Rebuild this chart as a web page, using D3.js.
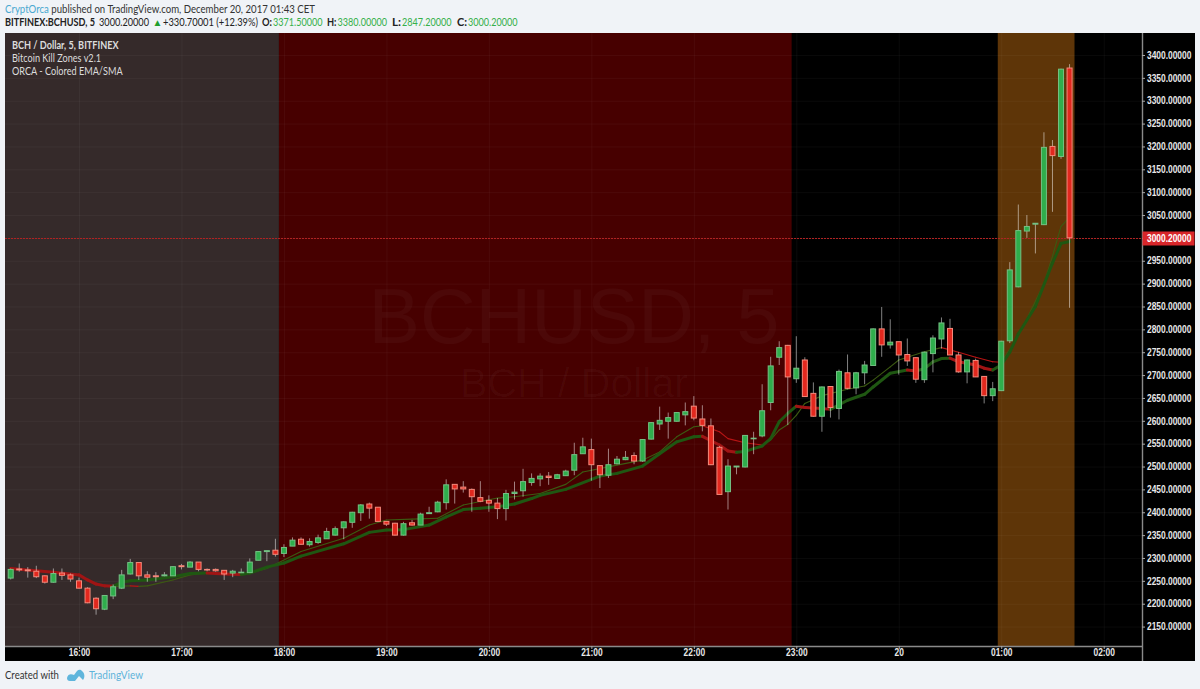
<!DOCTYPE html>
<html><head><meta charset="utf-8">
<script src="https://cdn.jsdelivr.net/npm/d3@7/dist/d3.min.js"></script>
<style>html,body{margin:0;padding:0;background:#f0f3f7;overflow:hidden}svg{display:block}</style>
</head><body><svg id="c" width="1200" height="689"></svg>
<script>
// five-minute bars, the first opens 19 Dec 2017 15:20 (CET)
const firstBar = Date.UTC(2017,11,19,15,20);
const opens = [2256,2276,2274,2271,2261,2247,2267,2263,2250,2234,2212,2188,2217,2234,2265,2290,2263,2261,2261,2261,2283,2280,2291,2275,2275,2273,2267,2268,2268,2295,2314,2317,2310,2326,2341,2329,2334,2342,2350,2366,2378,2399,2418,2411,2380,2376,2350,2377,2372,2397,2401,2421,2461,2455,2450,2432,2426,2420,2408,2441,2447,2465,2473,2479,2474,2480,2492,2528,2537,2502,2481,2506,2515,2524,2512,2560,2593,2599,2599,2613,2632,2604,2589,2542,2445,2499,2499,2561,2567,2640,2739,2765,2692,2733,2660,2610,2675,2627,2705,2672,2705,2721,2801,2766,2773,2745,2738,2690,2747,2779,2802,2744,2707,2732,2697,2655,2666,2775,2893,3015,3030,3029,3200,3178,3371.5];
const closes = [2275,2274,2272,2259,2247,2266,2262,2254,2234,2202,2189,2218,2237,2263,2290,2261,2258,2259,2263,2281,2281,2291,2275,2274,2272,2265,2271,2269,2291,2314,2316,2308,2323,2339,2330,2336,2344,2358,2364,2379,2400,2416,2409,2380,2374,2350,2375,2372,2396,2399,2422,2460,2451,2451,2434,2424,2420,2408,2441,2444,2467,2474,2479,2476,2482,2490,2526,2543,2504,2482,2504,2516,2520,2512,2559,2596,2601,2607,2618,2620,2606,2590,2504,2439,2501,2501,2568,2562,2622,2720,2760,2696,2715,2653,2610,2674,2629,2708,2671,2705,2722,2801,2766,2772,2744,2731,2691,2750,2781,2814,2744,2707,2733,2696,2655,2670,2774,2930,3016,3025,3032,3198,3180,3369,3000.2];
const highs = [2277,2288,2280,2283,2262,2277,2277,2266,2257,2236,2214,2219,2242,2274,2298,2290,2271,2269,2269,2282,2287,2293,2291,2277,2277,2273,2274,2277,2299,2315,2316,2342,2330,2345,2345,2343,2351,2366,2369,2380,2401,2418,2421,2411,2380,2377,2379,2383,2399,2412,2425,2472,2461,2468,2452,2468,2437,2431,2449,2467,2495,2485,2485,2488,2484,2493,2552,2563,2561,2502,2539,2523,2534,2531,2560,2597,2631,2618,2619,2640,2654,2634,2605,2545,2516,2501,2569,2576,2680,2740,2774,2766,2785,2739,2684,2675,2676,2712,2745,2707,2731,2802,2849,2822,2773,2780,2739,2751,2787,2826,2823,2750,2734,2736,2698,2685,2775,2947,3073,3050,3032,3231,3214,3370,3380];
const lows = [2253,2270,2257,2256,2244,2246,2252,2248,2233,2201,2176,2186,2210,2232,2264,2252,2248,2248,2260,2261,2275,2280,2271,2271,2270,2252,2258,2267,2267,2295,2293,2303,2302,2326,2329,2325,2331,2342,2349,2341,2366,2381,2386,2380,2370,2349,2349,2371,2372,2397,2400,2406,2419,2443,2401,2422,2401,2385,2382,2428,2434,2458,2457,2460,2473,2480,2481,2528,2469,2453,2475,2505,2514,2505,2510,2559,2580,2561,2598,2590,2601,2577,2503,2439,2406,2483,2498,2527,2564,2623,2722,2591,2683,2652,2609,2576,2607,2603,2669,2658,2680,2720,2740,2758,2701,2720,2683,2683,2706,2758,2744,2705,2682,2696,2638,2643,2665,2770,2892,3000,2966,3028,3057,3173,2847.2];

// moving-average vertices: bar number and price
const emaBars = [0,3,5,8,9,10,11,12,13,14,16,17,19,21,23,24,25,27,28,30,32,34,39,42,44,46,49,51,53,55,57,59,61,62,65,69,71,74,76,78,80,81,83,84,85,86,88,89,90,91,92,93,95,96,98,100,101,103,105,106,107,108,109,110,111,113,114,115,116,117,118,120,122,123,124];
const emaVals = [2277,2272,2269,2263,2252,2243,2239,2238,2247,2250,2252,2254,2259,2266,2267,2266,2265,2264,2267,2280,2289,2304,2331,2356,2361,2362,2372,2390,2406,2409,2412,2418,2430,2437,2450,2479,2485,2501,2528,2554,2565,2566,2547,2534,2531,2533,2545,2561,2598,2616,2632,2629,2627,2625,2645,2658,2674,2704,2711,2709,2714,2729,2736,2737,2729,2722,2715,2711,2722,2750,2790,2850,2945,2988,2992];
const smaBars = [0,3,5,8,9,10,11,12,14,15,16,19,21,23,25,27,28,30,34,39,42,44,47,50,53,57,59,62,65,67,71,74,76,78,80,81,83,84,86,88,89,90,91,92,93,95,98,100,101,103,104,107,109,111,113,115,116,118,121,122,123,124];
const smaVals = [2277,2272,2269,2263,2252,2243,2239,2238,2239,2238,2239,2252,2263,2267,2266,2265,2267,2277,2314,2343,2372,2383,2385,2387,2416,2431,2434,2441,2461,2488,2503,2514,2532,2565,2587,2589,2576,2561,2552,2547,2558,2580,2592,2612,2638,2655,2669,2676,2689,2718,2733,2751,2760,2750,2739,2729,2728,2785,2900,2960,3025,3045];

const priceTicks = d3.range(2150,3401,50);
const timeTickHours = [16,17,18,19,20,21,22,23,24,25,26];
const timeTickLabels = ["16:00","17:00","18:00","19:00","20:00","21:00","22:00","23:00","20","01:00","02:00"];
// session zones, in hours after midnight on 19 Dec
const zoneEnds = [17.951,22.956,24.966,25.717,27];
const zoneFills = ["#352a2a","#470000","#000000","#5e3508","#000000"];
const lastPrice = closes[closes.length-1];

const H = 3600e3, day0 = Date.UTC(2017,11,19);
const hourTime = h => new Date(day0+h*H);
const barTime = i => new Date(firstBar+i*300e3);
const L=5,R=1142,T=33,B=646;
const x = d3.scaleUtc().domain([Date.UTC(2017,11,19,15,16,40),Date.UTC(2017,11,20,2,22,25)]).range([L,R]);
const y = d3.scaleLinear().domain([2107.5,3448.1]).range([B,T]);
const svg = d3.select("#c");
const F = "Lato,sans-serif";
const AF = "'Liberation Sans',sans-serif";

svg.append("rect").attr("width",1200).attr("height",689).attr("fill","#f0f3f7");
svg.append("rect").attr("x",L).attr("y",T).attr("width",1195-L).attr("height",661-T).attr("fill","#000");
svg.append("clipPath").attr("id","pane").append("rect").attr("x",L).attr("y",T).attr("width",R-L).attr("height",B-T);
const pane = svg.append("g").attr("clip-path","url(#pane)");

// zones
let zStart = 15;
zoneEnds.forEach((e,k)=>{
  pane.append("rect").attr("x",x(hourTime(zStart))).attr("y",T)
    .attr("width",x(hourTime(e))-x(hourTime(zStart))).attr("height",B-T).attr("fill",zoneFills[k]);
  zStart = e;
});
// grid
pane.append("g").selectAll("line").data(priceTicks).join("line")
  .attr("x1",L).attr("x2",R).attr("y1",d=>y(d)+.5).attr("y2",d=>y(d)+.5).attr("stroke","rgba(255,255,255,.04)");
pane.append("g").selectAll("line").data(timeTickHours).join("line")
  .attr("y1",T).attr("y2",B).attr("x1",d=>x(hourTime(d))+.5).attr("x2",d=>x(hourTime(d))+.5).attr("stroke","rgba(255,255,255,.04)");
// watermark
pane.append("text").attr("x",574).attr("y",343).attr("text-anchor","middle").attr("font-family",AF)
  .attr("font-size",77).attr("fill","rgba(255,255,255,.032)").text("BCHUSD, 5");
pane.append("text").attr("x",574).attr("y",397).attr("text-anchor","middle").attr("font-family",AF)
  .attr("font-size",41).attr("fill","rgba(255,255,255,.032)").text("BCH / Dollar");

// moving averages, coloured by direction
function ma(bars,vals,width,up,down){
  const g = pane.append("g").attr("fill","none").attr("stroke-width",width).attr("stroke-linecap","round");
  const line = d3.line().x(d=>x(barTime(d[0]))).y(d=>y(d[1]));
  const pts = bars.map((b,i)=>[b,vals[i]]);
  d3.pairs(pts).forEach(([a,b])=>{
    g.append("path").attr("d",line([a,b])).attr("stroke",b[1]>=a[1]?up:down);
  });
}
ma(smaBars,smaVals,1.1,"#3c5a12","#b81414");
ma(emaBars,emaVals,3,"#1f5712","#a01414");

// last-price line
pane.append("line").attr("x1",L).attr("x2",R).attr("y1",Math.round(y(lastPrice))+.5).attr("y2",Math.round(y(lastPrice))+.5)
  .attr("stroke","#b02222").attr("stroke-dasharray","2 1");

// candles
const bars = d3.range(opens.length);
const isUp = i => closes[i]>=opens[i];
pane.append("g").selectAll("line").data(bars).join("line")
  .attr("x1",i=>x(barTime(i))).attr("x2",i=>x(barTime(i)))
  .attr("y1",i=>y(highs[i])).attr("y2",i=>y(lows[i]))
  .attr("stroke","rgba(255,255,255,.5)").attr("stroke-width",1);
pane.append("g").selectAll("rect").data(bars).join("rect")
  .attr("x",i=>x(barTime(i))-2.5).attr("width",5)
  .attr("y",i=>y(Math.max(opens[i],closes[i])))
  .attr("height",i=>Math.max(.6,Math.abs(y(opens[i])-y(closes[i]))))
  .attr("fill",i=>isUp(i)?"#2fae4c":"#e2281e")
  .attr("stroke",i=>isUp(i)?"#74c084":"#f58a7c").attr("stroke-width",1);

// price axis
const axR = svg.append("g").attr("transform",`translate(${R},0)`)
  .call(d3.axisRight(y).tickValues(priceTicks).tickFormat(d3.format(".5f")).tickSize(3).tickPadding(2));
// time axis
const axB = svg.append("g").attr("transform",`translate(0,${B})`)
  .call(d3.axisBottom(x).tickValues(timeTickHours.map(hourTime)).tickFormat((d,i)=>timeTickLabels[i]).tickSize(3).tickPadding(0));
[axR,axB].forEach(a=>{
  a.select(".domain").attr("stroke","#8a8a8a").attr("stroke-width",1.4);
  a.selectAll(".tick line").attr("stroke","#aaa");
  a.selectAll("text").attr("fill","#e8e8e8").attr("font-family",AF).attr("font-size",10).attr("font-weight",600);
});
axR.select(".domain").attr("d",`M0.5,${T}V661`);
axB.select(".domain").attr("d",`M${L},0.5H${R}`);
// the reference's type is narrower than the installed fonts: squeeze to the same widths
function squeeze(sel,k){sel.each(function(){const w=this.getComputedTextLength();this.setAttribute("textLength",w*k);this.setAttribute("lengthAdjust","spacingAndGlyphs");});return sel;}
squeeze(axR.selectAll("text"),.84);
squeeze(axB.selectAll("text"),.84);

// last-price tag
svg.append("rect").attr("x",R+.5).attr("y",Math.round(y(lastPrice))-6.5).attr("width",52).attr("height",14).attr("fill","#d8262a");
squeeze(svg.append("text").attr("x",R+5).attr("y",y(lastPrice)+3.8).attr("fill","#fff").attr("font-family",AF)
  .attr("font-size",10).attr("font-weight",600).text(d3.format(".5f")(lastPrice)),.84);

// pane legend
const lg = svg.append("g").attr("font-family",F).attr("font-size",11).attr("fill","#dcdcdc");
squeeze(lg.append("text").attr("x",12).attr("y",49).attr("font-weight",700).text("BCH / Dollar, 5, BITFINEX"),.83);
squeeze(lg.append("text").attr("x",12).attr("y",62).text("Bitcoin Kill Zones v2.1"),.83);
squeeze(lg.append("text").attr("x",12).attr("y",75).text("ORCA - Colored EMA/SMA"),.83);

// header
const h1 = svg.append("text").attr("x",5).attr("y",12.5).attr("font-family",F).attr("font-size",11.5).attr("fill","#333");
h1.append("tspan").attr("fill","#49a8d0").text("CryptOrca");
h1.append("tspan").text(" published on TradingView.com, December 20, 2017 01:43 CET");
h1.attr("textLength",310).attr("lengthAdjust","spacingAndGlyphs");
const h2 = svg.append("g").attr("font-family",F).attr("font-size",11.5).attr("fill","#222");
const put = (px,txt,w,fill,wt) => h2.append("text").attr("x",px).attr("y",26).attr("fill",fill||null).attr("font-weight",wt||null)
  .attr("textLength",w).attr("lengthAdjust","spacingAndGlyphs").text(txt);
put(5,"BITFINEX:BCHUSD, 5",90,null,700);
put(99,"3000.20000",50);
h2.append("text").attr("x",152.5).attr("y",26).attr("fill","#1f9e2c").attr("font-size",10).text("▲");
put(163,"+330.70001 (+12.39%)",95);
[["O:","3371.50000",262,273],["H:","3380.00000",327,337.5],["L:","2847.20000",392,402],["C:","3000.20000",457,468]].forEach(([k,v,px,vx])=>{
  put(px,k,vx-px-1,null,700);
  put(vx,v,49.5,"#35b04a");
});

// footer
squeeze(svg.append("text").attr("x",5).attr("y",679).attr("font-family",F).attr("font-size",11.5).attr("fill","#333").text("Created with"),.83);
const logo = svg.append("g").attr("transform","translate(67,670)").attr("fill","#5fb5dc");
logo.append("path").attr("d","M0,8 C1,3 5,4 7,5 L10,1 C12,-1 14,0 15,1 C18,3 18,8 16,10 L12,6 L8,11 L3,11 C1,11 0,10 0,8Z");
squeeze(svg.append("text").attr("x",89).attr("y",679).attr("font-family",F).attr("font-size",11.5).attr("fill","#5fb3da").text("TradingView"),.87);
</script></body></html>
